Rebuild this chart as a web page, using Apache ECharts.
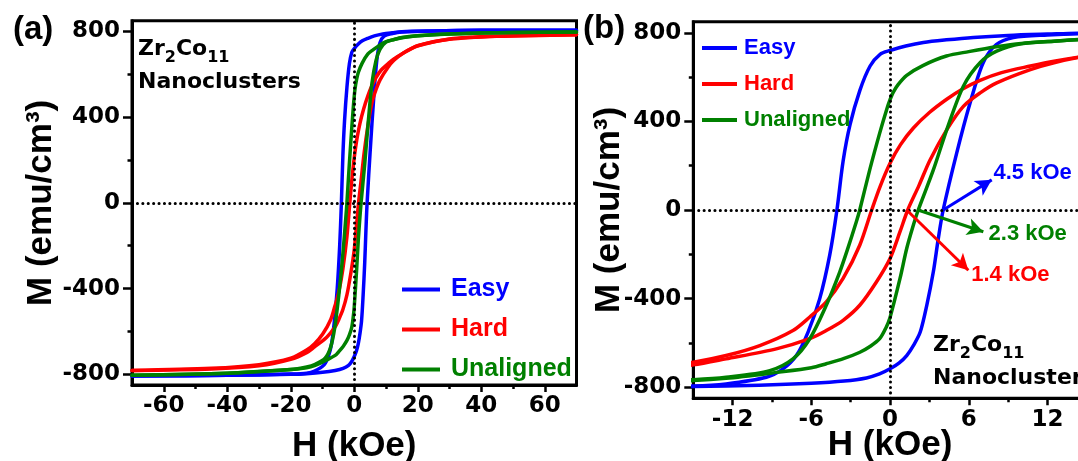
<!DOCTYPE html>
<html><head><meta charset="utf-8">
<script src="https://cdn.jsdelivr.net/npm/echarts@6/dist/echarts.min.js"></script>
<style>html,body{margin:0;padding:0;background:#fff}#c{width:1078px;height:461px}</style>
</head><body><div id="c"></div>
<script>
// ---------------- data (H in kOe, M in emu/cm^3) ----------------
const seriesNames = ['Easy', 'Hard', 'Unaligned'];

// descending (upper) branches, H from +70 to -70
const easyDown = [[70,806],[40,805],[25,802],[15,799],[12,794],[9,788],[6.35,779],[4.3,768],[2.54,756],[1.2,740],[0,720],[-0.76,703],[-1.52,650],[-2.3,540],[-3.05,385],[-3.58,220],[-4.05,0],[-4.6,-204],[-5.36,-400],[-6.25,-551],[-7.14,-657],[-8.16,-717],[-9.43,-755],[-12.5,-785],[-15,-795],[-20,-799],[-40,-805],[-70,-808]];
const hardDown = [[70,785],[45,778],[30,765],[20,733],[15,695],[12.5,672],[10.7,650],[8.5,620],[6.86,585],[5.5,545],[4.32,500],[3,440],[1.78,370],[0.8,295],[0,211],[-0.76,106],[-1.4,0],[-2.31,-159],[-3.58,-309],[-4.86,-415],[-6.12,-483],[-7.4,-544],[-9.93,-612],[-12.5,-657],[-15,-687],[-20,-725],[-30,-755],[-45,-772],[-70,-782]];
const unalignedDown = [[70,797],[50,795],[30,788],[20,780],[15,770],[12.5,762],[10,752],[8.1,737],[6,715],[4.3,695],[2.5,652],[1.27,608],[0.6,565],[0.23,530],[0,498],[-0.25,455],[-0.79,347],[-1.55,181],[-2.31,0],[-2.57,-53],[-3.2,-170],[-3.83,-279],[-4.86,-430],[-6.12,-581],[-7.4,-672],[-9.17,-725],[-12.5,-755],[-15,-766],[-20,-778],[-40,-795],[-70,-805]];

// ascending (lower) branches, H from -70 to +70
const easyUp = [[-70,-808],[-40,-805],[-20,-800],[-15,-797],[-10,-791],[-6,-782],[-3.5,-772],[-1.8,-758],[-0.8,-740],[0,-717],[0.7,-690],[1.27,-657],[1.8,-610],[2.3,-551],[2.8,-430],[3.3,-279],[3.68,-128],[4.05,0],[5.08,257],[6.1,483],[7.1,665],[8.1,747],[9.4,778],[12,790],[15,797],[25,802],[40,805],[70,806]];
const hardUp = [[-70,-782],[-45,-775],[-30,-760],[-20,-730],[-15,-699],[-12.5,-672],[-8.67,-627],[-6.12,-581],[-4.86,-544],[-3.58,-498],[-2.31,-430],[-1.04,-325],[0,-219],[0.76,-98],[1.35,0],[2.2,110],[3.05,226],[4.32,362],[5.59,468],[6.9,530],[8.13,574],[10.7,634],[12.5,665],[15,695],[20,733],[30,763],[45,777],[70,785]];
const unalignedUp = [[-70,-805],[-40,-795],[-20,-778],[-15,-770],[-12.5,-760],[-8.67,-733],[-6,-712],[-4.86,-694],[-3.5,-670],[-2.3,-642],[-1.5,-615],[-0.79,-581],[-0.3,-530],[0,-485],[0.76,-309],[1.27,-174],[1.78,-68],[2.15,0],[3.3,181],[4.32,362],[5.59,559],[6.86,665],[8.13,717],[10,750],[12.5,762],[15,772],[20,780],[30,788],[50,795],[70,797]];

// axis ticks
const xMajorA = [-60,-40,-20,0,20,40,60];
const xMinorA = [-50,-30,-10,10,30,50];
const xMajorB = [-12,-6,0,6,12];
const xMinorB = [-9,-3,3,9];
const yMajor = [-800,-400,0,400,800];
const yMinor = [-600,-200,200,600];

// coercivity annotations in panel (b)
const coercivityLabels = ['4.5 kOe', '2.3 kOe', '1.4 kOe'];
const arrowFrom = [[4.05,0],[2.13,0],[1.27,0]];
const arrowTo = [[7.75,136],[7.11,-98],[5.97,-272]];
const labelAt = [[7.85,168],[7.47,-109],[6.15,-294]];
const panelTags = ['(a)', '(b)'];

// ---------------- styling ----------------
const colors = {Easy:'#0000ff', Hard:'#ff0000', Unaligned:'#008000'};
const annoColors = ['#0000ff', '#008000', '#ff0000'];
const TICKFONT = {fontFamily:'DejaVu Sans', fontWeight:'bold', fontSize:23, color:'#000'};
const TITLEFONT = {fontFamily:'Liberation Sans', fontWeight:'bold', fontSize:35, color:'#000'};

function xAxisMain(grid, min, max, ticks, gap) {
  return {gridIndex:grid, type:'value', min:min, max:max, position:'bottom',
    axisLine:{show:true, onZero:false, lineStyle:{color:'#000', width:3}},
    axisTick:{show:true, customValues:ticks, length:7, lineStyle:{color:'#000', width:2.5}},
    axisLabel:{customValues:ticks, margin:10, ...TICKFONT},
    splitLine:{show:false},
    name:'H (kOe)', nameLocation:'middle', nameGap:gap, nameMoveOverlap:false, nameTextStyle:TITLEFONT};
}
function xAxisMinor(grid, min, max, ticks) {
  return {gridIndex:grid, type:'value', min:min, max:max, position:'bottom',
    axisLine:{show:false, onZero:false}, axisLabel:{show:false}, splitLine:{show:false},
    axisTick:{show:true, customValues:ticks, length:4, lineStyle:{color:'#000', width:2.5}}};
}
function yAxisMain(grid, gap) {
  return {gridIndex:grid, type:'value', min:-850, max:850, position:'left',
    axisLine:{show:true, onZero:false, lineStyle:{color:'#000', width:3}},
    axisTick:{show:true, customValues:yMajor, length:9, lineStyle:{color:'#000', width:2.5}},
    axisLabel:{customValues:yMajor, margin:12, ...TICKFONT},
    splitLine:{show:false},
    name:'M (emu/cm³)', nameLocation:'middle', nameGap:gap, nameMoveOverlap:false, nameTextStyle:TITLEFONT};
}
function yAxisMinor(grid) {
  return {gridIndex:grid, type:'value', min:-850, max:850, position:'left',
    axisLine:{show:false, onZero:false}, axisLabel:{show:false}, splitLine:{show:false},
    axisTick:{show:true, customValues:yMinor, length:4.5, lineStyle:{color:'#000', width:2.5}}};
}

const loops = [
  ['Easy', easyDown, easyUp],
  ['Hard', hardDown, hardUp],
  ['Unaligned', unalignedDown, unalignedUp]
];

const series = [];
[0, 1].forEach(function (g) {
  loops.forEach(function (lp) {
    [lp[1], lp[2]].forEach(function (branch) {
      series.push({type:'line', name:lp[0], xAxisIndex:g, yAxisIndex:g,
        data:branch, smooth:0.3, showSymbol:false, symbol:'none',
        clip:true, color:colors[lp[0]], lineStyle:{width:3.5, color:colors[lp[0]], join:'round', cap:'round'}, z:2});
    });
  });
});

const dotStyle = {color:'#000', width:3, type:[0.1, 5.3], cap:'round'};
function overlaySeries(g, withArrows) {
  const ml = [{xAxis:0, lineStyle:dotStyle}, {yAxis:0, lineStyle:dotStyle}];
  const mp = [];
  if (withArrows) {
    coercivityLabels.forEach(function (t, i) {
      ml.push([{coord:arrowFrom[i], symbol:'none', lineStyle:{color:annoColors[i], width:3, type:'solid'}},
               {coord:arrowTo[i], symbol:'arrow'}]);
      mp.push({name:t, coord:labelAt[i],
        label:{show:true, position:'right', distance:0, formatter:'{b}', color:annoColors[i],
          fontFamily:'Liberation Sans', fontWeight:'bold', fontSize:22}});
    });
  }
  return {type:'line', name:'_ref' + g, xAxisIndex:g, yAxisIndex:g, data:[], z:5, silent:true,
    markLine:{silent:true, symbol:['none','none'], symbolSize:[13,16], label:{show:false}, data:ml, z:5},
    markPoint:{silent:true, symbol:'circle', symbolSize:1, itemStyle:{color:'rgba(0,0,0,0)'}, data:mp}};
}
series.push(overlaySeries(0, false));
series.push(overlaySeries(1, true));

function legendFor(left, top, fs, iw, gap, pad) {
  return {show:true, orient:'vertical', left:left, top:top, icon:'rect', itemWidth:iw, itemHeight:4,
    itemGap:gap, selectedMode:false,
    textStyle:{fontFamily:'Liberation Sans', fontWeight:'bold', fontSize:fs, padding:[0,0,0,pad]},
    data:seriesNames.map(function (n) { return {name:n, textStyle:{color:colors[n]}}; })};
}

function clusterText(left, top) {
  return {type:'text', left:left, top:top, z:10,
    style:{text:'{m|Zr}{s|2}{m|Co}{s|11}\n{m|Nanoclusters}', fill:'#000',
      rich:{m:{fontFamily:'DejaVu Sans', fontWeight:'bold', fontSize:22, lineHeight:33, verticalAlign:'middle'},
            s:{fontFamily:'DejaVu Sans', fontWeight:'bold', fontSize:16, lineHeight:33, verticalAlign:'bottom'}}}};
}

const option = {
  animation:false,
  backgroundColor:'#fff',
  grid:[
    {left:132, top:20.7, width:444.5, height:364.3, show:true, borderColor:'#000', borderWidth:3, containLabel:false, outerBoundsMode:'none'},
    {left:693.3, top:21.7, width:393.5, height:376.6, show:true, borderColor:'#000', borderWidth:3, containLabel:false, outerBoundsMode:'none'}
  ],
  xAxis:[xAxisMain(0,-70,70,xMajorA,44), xAxisMain(1,-15,15,xMajorB,30), xAxisMinor(0,-70,70,xMinorA), xAxisMinor(1,-15,15,xMinorB)],
  yAxis:[yAxisMain(0,73), yAxisMain(1,66), yAxisMinor(0), yAxisMinor(1)],
  legend:[legendFor(397, 272, 25, 38, 15, 6), legendFor(697, 32, 22, 35, 14, 2)],
  series:series,
  graphic:[
    {type:'text', left:13, top:13, style:{text:panelTags[0], fill:'#000', fontFamily:'Liberation Sans', fontWeight:'bold', fontSize:33}},
    {type:'text', left:583, top:12, style:{text:panelTags[1], fill:'#000', fontFamily:'Liberation Sans', fontWeight:'bold', fontSize:33}},
    clusterText(138, 38),
    clusterText(933, 334)
  ]
};

const chart = echarts.init(document.getElementById('c'), null, {renderer:'canvas'});
chart.setOption(option);
</script>
</body></html>
